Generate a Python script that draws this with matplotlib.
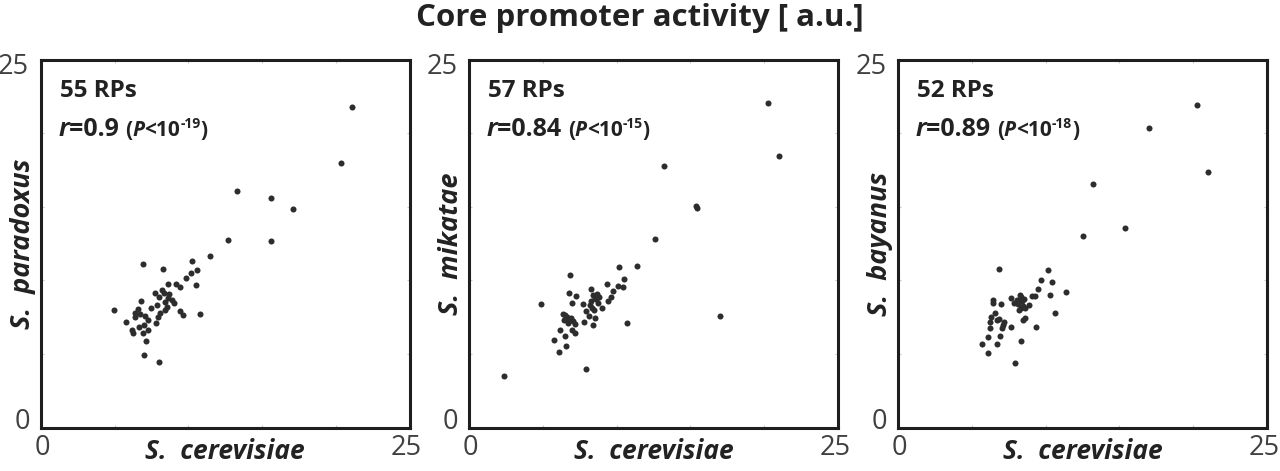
import matplotlib
matplotlib.use("Agg")
import matplotlib.pyplot as plt
from matplotlib.transforms import ScaledTranslation

plt.rcParams['font.family'] = ['Open Sans', 'DejaVu Sans']

# ---------------- data ----------------
title = "Core promoter activity [ a.u.]"
x_label = "S.  cerevisiae"
y_labels = ["S.  paradoxus", "S.  mikatae", "S.  bayanus"]
n_rps = ["55 RPs", "57 RPs", "52 RPs"]
r_vals = ["0.9", "0.84", "0.89"]
p_exps = ["-19", "-15", "-18"]
axis_min, axis_max = 0, 25
minor_ticks = [5, 10, 15, 20]

x_para = [21.13, 20.34, 13.31, 15.62, 17.09, 12.68, 15.57,
          11.46, 10.24, 6.92, 8.27, 10.58, 10.17, 9.83, 8.61, 9.13, 9.45, 10.51, 7.75, 8.20,
          8.36, 8.70, 8.59, 8.43, 6.80, 8.99, 7.87, 8.54,
          8.43, 4.92, 6.55, 6.39, 9.40, 9.63, 10.80, 8.04, 7.03, 6.39, 7.23, 5.79, 7.77, 7.00,
          6.62, 6.17, 7.28, 6.24, 6.89, 7.14, 6.96, 8.02,
          8.00, 8.90, 7.95, 6.75, 7.45]
y_para = [21.76, 17.96, 16.06, 15.63, 14.84, 12.76, 12.67,
          11.68, 11.29, 11.09, 10.75, 10.70, 10.48, 10.16, 9.77, 9.77, 9.57, 9.69, 9.16, 9.35,
          9.16, 9.08, 8.78, 8.55, 8.62, 8.49, 8.33, 8.21,
          7.99, 7.97, 8.04, 7.81, 7.94, 7.63, 7.72, 7.81, 7.58, 7.49, 7.29, 7.20, 7.09, 6.97,
          6.82, 6.63, 6.63, 6.45, 6.41, 5.91, 4.91, 4.44,
          8.90, 8.70, 7.55, 7.70, 8.15]

x_mik = [20.26, 20.98, 13.23, 15.40, 15.47, 12.58, 16.98,
         11.38, 10.16, 6.84, 10.50, 10.09, 10.43, 9.35, 9.74, 8.25, 6.75, 9.58, 9.42, 8.40, 8.58,
         8.29, 6.94, 7.68, 8.18, 4.86, 8.97, 8.45, 7.93, 6.33, 6.60, 8.52, 6.78, 7.05, 7.79, 6.41,
         8.38, 10.70, 7.00, 7.18, 6.14, 6.50, 5.76, 6.57, 6.10, 7.93, 2.35,
         8.65, 8.80, 8.50, 8.70, 8.30, 6.50, 6.90, 7.15, 6.70, 8.10, 7.25]
y_mik = [22.05, 18.47, 17.79, 15.05, 14.91, 12.78, 7.59,
         10.95, 10.91, 10.38, 10.11, 9.59, 9.55, 9.75, 9.25, 9.43, 9.14, 8.87, 8.61, 9.02, 8.73,
         8.57, 8.46, 8.39, 8.30, 8.41, 8.16, 7.96, 7.89, 7.73, 7.55, 7.48, 7.37, 7.25, 7.21, 7.32,
         6.98, 7.10, 6.64, 6.46, 6.60, 6.23, 5.96, 5.58, 5.15, 3.97, 3.51,
         9.10, 8.90, 8.80, 8.45, 8.10, 7.65, 7.45, 7.05, 7.10, 7.60, 8.95]

x_bay = [20.26, 16.98, 21.01, 13.19, 15.41, 12.56,
         6.80, 10.13, 9.70, 10.45, 9.48, 11.35, 10.31, 9.07, 9.29, 8.23, 7.64, 6.42, 6.96, 8.05,
         8.39, 7.87, 8.46, 8.84, 8.16, 10.65, 6.58, 8.61, 8.46, 6.30, 6.69, 7.14, 6.19, 7.05, 7.66,
         9.36, 6.10, 6.87, 8.32, 6.71, 5.67, 6.08, 7.89,
         8.30, 8.55, 8.15, 8.60, 6.40, 6.85, 6.20, 7.10, 8.35]
y_bay = [21.89, 20.35, 17.38, 16.57, 13.58, 13.03,
         10.77, 10.72, 10.04, 9.86, 9.41, 9.20, 9.02, 8.97, 8.91, 9.02, 8.80, 8.64, 8.41, 8.68,
         8.57, 8.50, 8.27, 8.34, 8.00, 7.78, 7.82, 7.44, 7.28, 7.55, 7.28, 7.21, 6.80, 6.76, 6.87,
         6.87, 6.15, 6.24, 5.92, 5.69, 5.67, 5.10, 4.38,
         8.85, 8.75, 8.40, 8.10, 8.45, 7.40, 7.20, 7.00, 8.15]

xs = [x_para, x_mik, x_bay]
ys = [y_para, y_mik, y_bay]

# ---------------- figure ----------------
W, H = 1280, 471
fig = plt.figure(figsize=(W / 100, H / 100), dpi=100)
renderer = fig.canvas.get_renderer()

ax_left_px = [41, 469.3, 898.3]
ax_w_px = 368.5
ax_top_px, ax_bot_px = 59.5, 427.7

dot_color = '#2d2d2d'
spine_color = '#1e1e1e'
tick_label_color = '#404040'
text_color = '#222222'


def rich_line(ax, x, y, pieces):
    cur = x
    for s, props, dy in pieces:
        tr = ax.transAxes + ScaledTranslation(0, dy / 72, fig.dpi_scale_trans)
        t = ax.text(cur, y, s, transform=tr, ha='left', va='baseline', **props)
        bb = t.get_window_extent(renderer)
        cur = ax.transAxes.inverted().transform((bb.x1, bb.y0))[0]


for i in range(3):
    left = ax_left_px[i] / W
    bottom = (H - ax_bot_px) / H
    ax = fig.add_axes([left, bottom, ax_w_px / W, (ax_bot_px - ax_top_px) / H])
    ax.scatter(xs[i], ys[i], s=19, color=dot_color, linewidths=0, zorder=3)
    ax.set_xlim(axis_min, axis_max)
    ax.set_ylim(axis_min, axis_max)
    ax.set_xticks([])
    ax.set_yticks([])
    ax.set_xticks(minor_ticks, minor=True)
    ax.set_yticks(minor_ticks, minor=True)
    ax.tick_params(which='minor', direction='in', length=2.5, width=0.8, color='#c8c8c8',
                   top=True, right=True, labelbottom=False, labelleft=False)
    for sp in ax.spines.values():
        sp.set_linewidth(2.2)
        sp.set_color(spine_color)

    tk = dict(fontsize=19.5, color=tick_label_color, textcoords='offset pixels',
              xycoords='axes fraction')
    ax.annotate(str(axis_max), xy=(0, 1), xytext=(-12, -7), ha='right', va='center', **tk)
    ax.annotate(str(axis_min), xy=(0, 0), xytext=(-11, 6), ha='right', va='center', **tk)
    ax.annotate(str(axis_min), xy=(0, 0), xytext=(1, -20), ha='center', va='center', **tk)
    ax.annotate(str(axis_max), xy=(1, 0), xytext=(-3, -20), ha='center', va='center', **tk)

    ax.annotate(x_label, xy=(0.5, 0), xytext=(0, -24), xycoords='axes fraction',
                textcoords='offset pixels', ha='center', va='center', fontsize=19,
                fontweight='bold', fontstyle='italic', color=text_color)
    ax.annotate(y_labels[i], xy=(0, 0.5), xytext=(-18, 0), xycoords='axes fraction',
                textcoords='offset pixels', ha='center', va='center', fontsize=19.5,
                fontweight='bold', fontstyle='italic', color=text_color, rotation=90)

    ax.text(0.052, 0.898, n_rps[i], transform=ax.transAxes, ha='left', va='baseline',
            fontsize=17.5, fontweight='bold', color=text_color)
    big = dict(fontsize=18, fontweight='bold', color=text_color)
    small = dict(fontsize=15, fontweight='bold', color=text_color)
    sup = dict(fontsize=10, fontweight='bold', color=text_color)
    rich_line(ax, 0.047, 0.791, [
        ("r", dict(big, fontstyle='italic'), 0),
        ("=" + r_vals[i] + " ", big, 0),
        ("(", small, 0),
        ("P", dict(small, fontstyle='italic'), 0),
        ("<10", small, 0),
        (p_exps[i], sup, 6),
        (")", small, 0),
    ])

fig.text(0.5, 1 - 18 / H, title, ha='center', va='center', fontsize=22.5,
         fontweight='bold', color=text_color)

fig.savefig("out.png", dpi=100)
